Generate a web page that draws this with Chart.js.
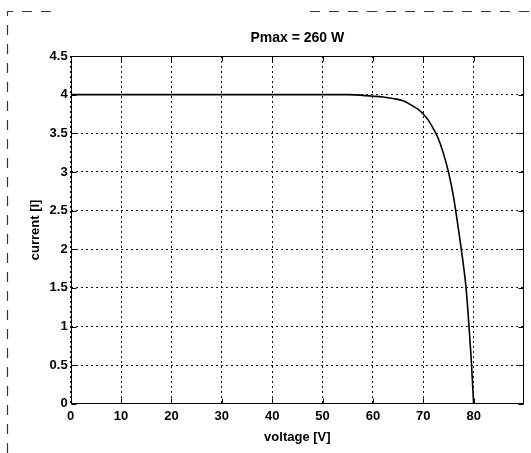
<!DOCTYPE html>
<html>
<head>
<meta charset="utf-8">
<title>Pmax = 260 W</title>
<script src="https://cdn.jsdelivr.net/npm/chart.js@4"></script>
<style>
    html, body { margin: 0; padding: 0; background: #fff; }
    #wrap { width: 531px; height: 453px; position: relative; }
</style>
</head>
<body>
<div id="wrap"><canvas id="ivChart"></canvas></div>
<script>

// ---------------- data ----------------
const voltage = [0, 10, 20, 30, 40, 50, 55, 60, 62, 64, 66, 68, 69, 70, 71, 72, 73, 74, 75, 76, 77, 78, 78.5, 79, 79.5, 80];
const current = [4, 4, 4, 4, 4, 4, 4, 3.98, 3.97, 3.95, 3.92, 3.85, 3.81, 3.75, 3.67, 3.56, 3.43, 3.24, 3.0, 2.68, 2.25, 1.78, 1.5, 1.08, 0.6, 0];

const xTicks = [0, 10, 20, 30, 40, 50, 60, 70, 80];
const xLabels = ["0", "10", "20", "30", "40", "50", "60", "70", "80"];
const yTicks = [0, 0.5, 1, 1.5, 2, 2.5, 3, 3.5, 4, 4.5];
const yLabels = ["0", "0.5", "1", "1.5", "2", "2.5", "3", "3.5", "4", "4.5"];

const FONT = "'Liberation Sans', Arial, Helvetica, sans-serif";


// ======================================
// FRAME + MATLAB STYLE BOX
// ======================================

const framePlugin = {
    id: "frame",
    beforeDraw(chart){
        const ctx = chart.ctx;
        ctx.save();
        ctx.fillStyle = "#fff";
        ctx.fillRect(0, 0, chart.width, chart.height);

        // dashed figure border (scanned, partly faded on top)
        ctx.strokeStyle = "#333";
        ctx.lineWidth = 1.2;
        ctx.setLineDash([10, 9]);
        ctx.beginPath();
        ctx.moveTo(7.5, chart.height);
        ctx.lineTo(7.5, 11.5);
        ctx.lineTo(60, 11.5);
        ctx.moveTo(310, 11.5);
        ctx.lineTo(chart.width, 11.5);
        ctx.stroke();
        ctx.restore();
    },
    afterDraw(chart){
        const {ctx, chartArea:a, scales:{x, y}} = chart;
        ctx.save();
        ctx.strokeStyle = "#000";
        ctx.lineWidth = 1;
        ctx.setLineDash([]);

        const l = Math.round(a.left) + 0.5;
        const r = Math.round(a.right) - 0.5;
        const t = Math.round(a.top) + 0.5;
        const b = Math.round(a.bottom) - 0.5;

        ctx.strokeRect(l, t, r - l, b - t);

        ctx.beginPath();
        xTicks.forEach(v=>{
            const px = Math.round(x.getPixelForValue(v)) + 0.5;
            ctx.moveTo(px, b); ctx.lineTo(px, b - 5);
            ctx.moveTo(px, t); ctx.lineTo(px, t + 5);
        });
        yTicks.forEach(v=>{
            const py = Math.round(y.getPixelForValue(v)) + 0.5;
            ctx.moveTo(l, py); ctx.lineTo(l + 5, py);
            ctx.moveTo(r, py); ctx.lineTo(r - 5, py);
        });
        ctx.stroke();
        ctx.restore();
    }
};


// ======================================
// CHART
// ======================================

function renderChart(){

    const ctx = document.getElementById("ivChart");

    new Chart(ctx,{

        type:"line",

        data:{
            datasets:[{
                label:"I-V",
                data: voltage.map((v,i)=>({x:v, y:current[i]})),
                borderColor:"#000",
                borderWidth:1.6,
                pointRadius:0,
                fill:false,
                cubicInterpolationMode:"monotone"
            }]
        },

        options:{
            responsive:true,
            maintainAspectRatio:false,
            animation:false,
            layout:{
                padding:{ left:28, right:7, top:0, bottom:8 }
            },
            plugins:{
                legend:{ display:false },
                tooltip:{ enabled:false },
                title:{
                    display:true,
                    text:"Pmax = 260 W",
                    color:"#000",
                    fullSize:false,
                    font:{ family:FONT, size:14, weight:"bold" },
                    padding:{ top:30, bottom:9.2 }
                }
            },
            scales:{
                x:{
                    type:"linear",
                    min:0,
                    max:90,
                    afterBuildTicks: s => { s.ticks = xTicks.map(v=>({value:v})); },
                    ticks:{
                        color:"#000",
                        padding:5,
                        maxRotation:0,
                        font:{ family:FONT, size:13, weight:"bold" },
                        callback:(v,i)=>xLabels[i]
                    },
                    grid:{ color:"#111", lineWidth:1, drawTicks:false },
                    border:{ display:false, dash:[2,3] },
                    title:{
                        display:true,
                        text:"voltage [V]",
                        color:"#000",
                        font:{ family:FONT, size:13, weight:"bold" },
                        padding:{ top:0, bottom:0 }
                    }
                },
                y:{
                    min:0,
                    max:4.5,
                    afterBuildTicks: s => { s.ticks = yTicks.map(v=>({value:v})); },
                    ticks:{
                        color:"#000",
                        padding:3,
                        font:{ family:FONT, size:13, weight:"bold" },
                        callback:(v,i)=>yLabels[i]
                    },
                    grid:{ color:"#111", lineWidth:1, drawTicks:false },
                    border:{ display:false, dash:[2,3] },
                    title:{
                        display:true,
                        text:"current [I]",
                        color:"#000",
                        font:{ family:FONT, size:13, weight:"bold" },
                        padding:{ top:0, bottom:3 }
                    }
                }
            }
        },

        plugins:[framePlugin]

    });

}


document.addEventListener(
    "DOMContentLoaded",
    renderChart
);
</script>
</body>
</html>
